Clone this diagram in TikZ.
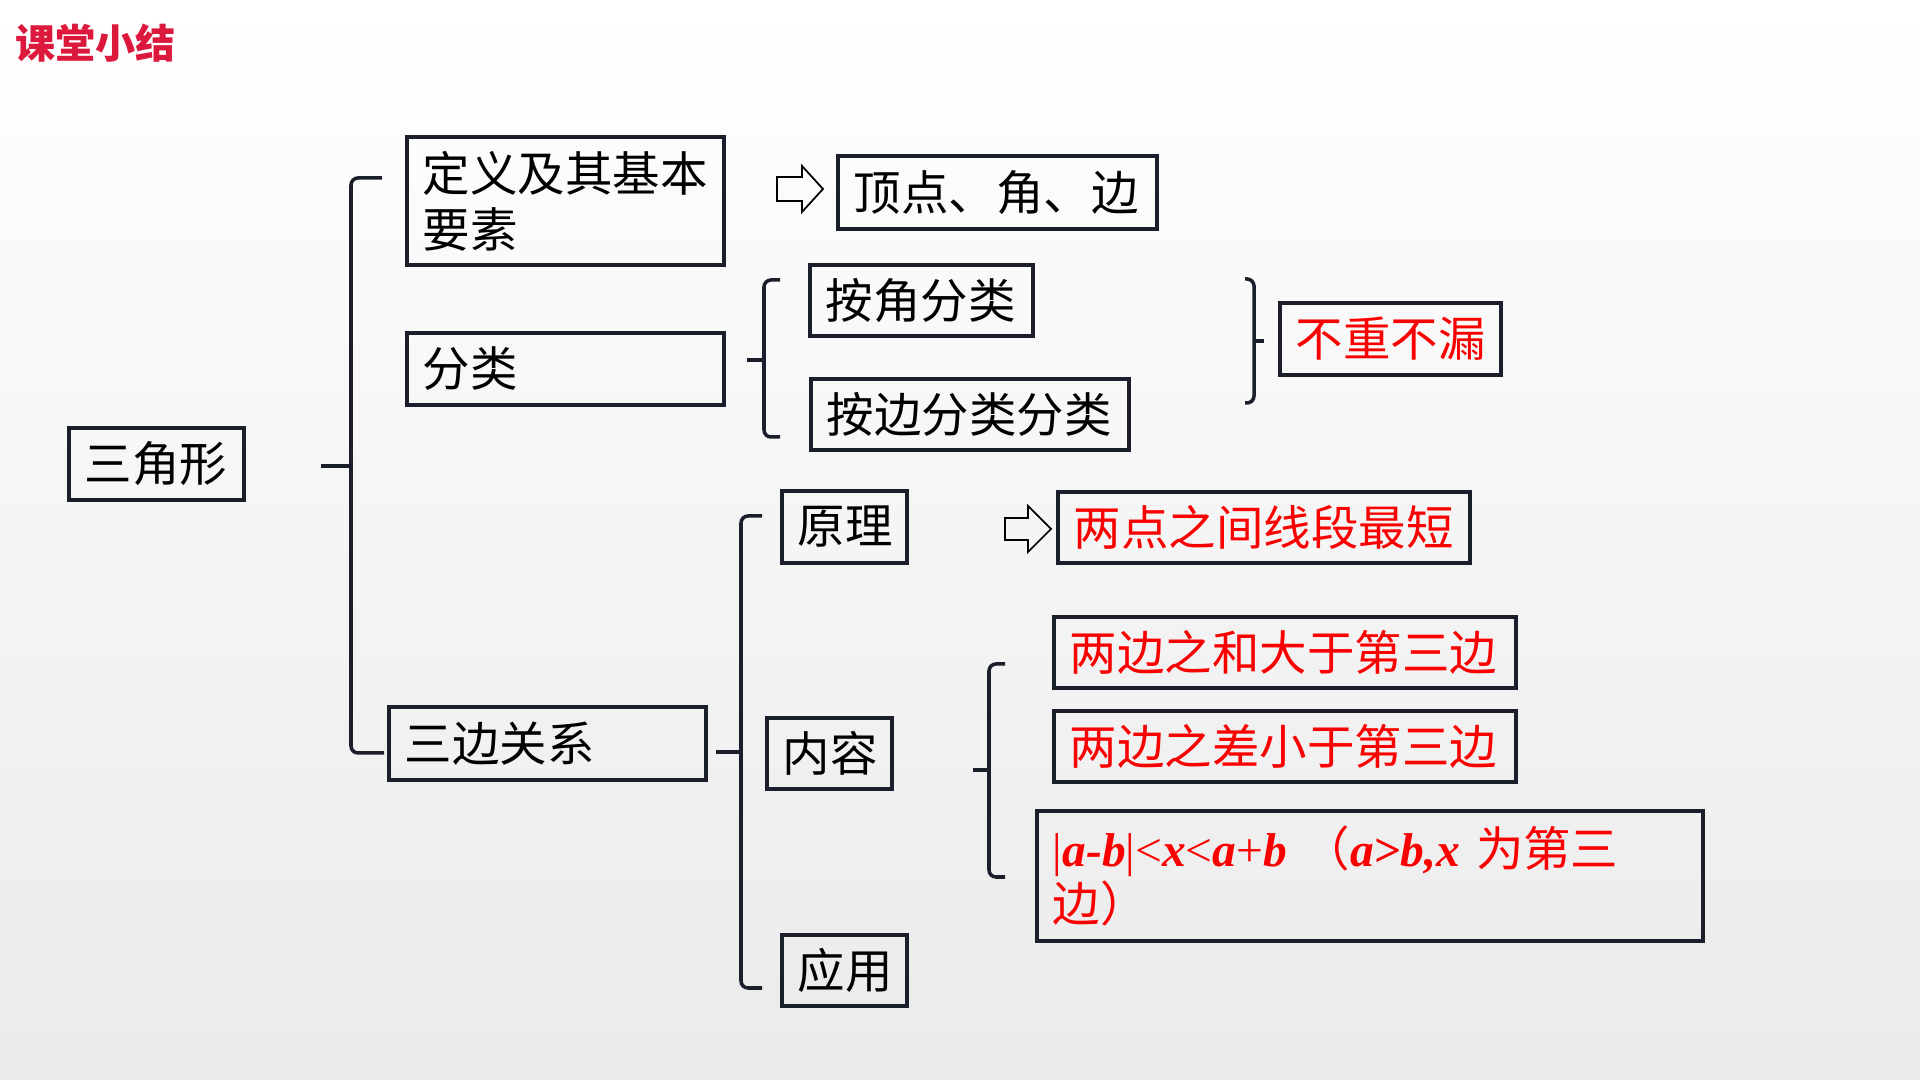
\documentclass[tikz,border=0pt]{standalone}
\usepackage{fontspec}
\setmainfont{Noto Sans CJK SC}
\newfontfamily\tnr{Liberation Serif}
\usetikzlibrary{calc, positioning}

\definecolor{boxline}{RGB}{27,31,43}
\definecolor{hotred}{RGB}{250,0,0}
\definecolor{titlered}{RGB}{220,24,60}
\newcommand{\ivar}[1]{{\tnr\bfseries\itshape #1}}

\begin{document}
\begin{tikzpicture}[x=0.01cm, y=-0.01cm,
        sum_box/.style={draw=boxline, line width=1.1pt, anchor=north west, inner xsep=0.16cm, inner ysep=0pt,
            align=left, font=\fontsize{13.5pt}{15.9pt}\selectfont},
        red_text/.style={text=hotred},
        brace_line/.style={draw=boxline, line width=1pt, rounded corners=0.07cm},
        hollow_arrow/.style={draw=black, line width=0.5pt}]

        % Slide background
        \useasboundingbox (0,0) rectangle (1920,1080);
        \fill[top color=white, bottom color=gray!16] (0,0) rectangle (1920,1080);

        % Title
        \node[anchor=west, inner sep=0pt, text=titlered, font=\fontsize{11.4pt}{13pt}\selectfont\bfseries] (title) at (15,43) {课堂小结};

        % Left column
        \node[sum_box, text width=1.43cm, minimum height=0.72cm] (tri) at (67,426) {三角形};
        \node[sum_box, text width=2.85cm, minimum height=1.28cm] (def) at (405,135) {定义及其基本\\要素};
        \node[sum_box, text width=2.85cm, minimum height=0.72cm] (cls) at (405,331) {分类};
        \node[sum_box, text width=2.85cm, minimum height=0.73cm] (rel) at (387,705) {三边关系};

        % Definition and classification
        \node[sum_box, text width=2.87cm, minimum height=0.73cm] (vert) at (836,154) {顶点、角、边};
        \node[sum_box, text width=1.91cm, minimum height=0.71cm] (by_angle) at (808,263) {按角分类};
        \node[sum_box, text width=2.86cm, minimum height=0.71cm] (by_side) at (809,377) {按边分类分类};
        \node[sum_box, red_text, text width=1.89cm, minimum height=0.72cm] (no_gap) at (1278,301) {不重不漏};

        % Side relations
        \node[sum_box, text width=0.93cm, minimum height=0.72cm] (prin) at (780,489) {原理};
        \node[sum_box, text width=0.93cm, minimum height=0.71cm] (cont) at (765,716) {内容};
        \node[sum_box, text width=0.93cm, minimum height=0.71cm] (app) at (780,933) {应用};
        \node[sum_box, red_text, text width=3.80cm, minimum height=0.71cm] (shortest) at (1056,490) {两点之间线段最短};
        \node[sum_box, red_text, text width=4.30cm, minimum height=0.71cm] (sum) at (1052,615) {两边之和大于第三边};
        \node[sum_box, red_text, text width=4.30cm, minimum height=0.71cm, below=0.19cm of sum] (diff) {两边之差小于第三边};
        \node[sum_box, red_text, text width=6.34cm, minimum height=1.30cm, font=\fontsize{13.5pt}{15.6pt}\selectfont] (ineq) at (1035,809)
            {{\tnr|}\ivar{a-b}{\tnr|<}\ivar{x}{\tnr<}\ivar{a}{\tnr+}\ivar{b}{\tnr\ }（\ivar{a>b,x}{\tnr\ }为第三\\边）};

        % Hollow arrows
        \coordinate (arr1) at (777,189);
        \coordinate (arr2) at (1005,529);
        \draw[hollow_arrow] ($(arr1)+(0,-12)$) -- ++(25,0) -- ++(0,-11) -- ++(21,23) -- ++(-21,23) -- ++(0,-11) -- ++(-25,0) -- cycle;
        \draw[hollow_arrow] ($(arr2)+(0,-11)$) -- ++(23,0) -- ++(0,-12) -- ++(23,23) -- ++(-23,23) -- ++(0,-12) -- ++(-23,0) -- cycle;

        % Bracket: triangle -> definition, classification, side relations
        \coordinate (b1_top) at (382,178);
        \coordinate (b1_bot) at (384,753);
        \coordinate (b1_tick) at (321,466);
        \draw[brace_line] (b1_top) -| (351,466) |- (b1_bot);
        \draw[brace_line] (b1_tick) -- (351,466);

        % Bracket: classification -> by angle, by side
        \coordinate (b2_top) at (780,280);
        \coordinate (b2_bot) at (780,437);
        \coordinate (b2_tick) at (747,360);
        \draw[brace_line] (b2_top) -| (764,360) |- (b2_bot);
        \draw[brace_line] (b2_tick) -- (764,360);

        % Closing bracket -> no overlap, no omission
        \coordinate (b3_top) at (1245,279);
        \coordinate (b3_bot) at (1245,403);
        \coordinate (b3_tick) at (1264,341);
        \draw[brace_line] (b3_top) -| (1254,341) |- (b3_bot);
        \draw[brace_line] (b3_tick) -- (1254,341);

        % Bracket: side relations -> principle, content, application
        \coordinate (b4_top) at (762,516);
        \coordinate (b4_bot) at (762,988);
        \coordinate (b4_tick) at (716,752);
        \draw[brace_line] (b4_top) -| (741,752) |- (b4_bot);
        \draw[brace_line] (b4_tick) -- (741,752);

        % Bracket: content -> three statements
        \coordinate (b5_top) at (1005,664);
        \coordinate (b5_bot) at (1005,877);
        \coordinate (b5_tick) at (973,770);
        \draw[brace_line] (b5_top) -| (989,770) |- (b5_bot);
        \draw[brace_line] (b5_tick) -- (989,770);
    \end{tikzpicture}
\end{document}
